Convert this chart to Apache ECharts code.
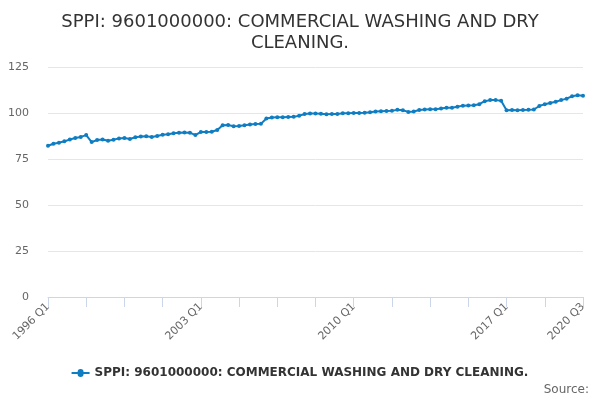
<!DOCTYPE html>
<html>
<head>
<meta charset="utf-8">
<script src="https://cdn.jsdelivr.net/npm/echarts@6/dist/echarts.min.js"></script>
<style>
  html, body { margin: 0; padding: 0; background: #fff; }
  #chart { width: 600px; height: 400px; }
</style>
</head>
<body>
<div id="chart"></div>
<script>
// 数据：1996 Q1 ~ 2020 Q3 季度指数
const seriesName = 'SPPI: 9601000000: COMMERCIAL WASHING AND DRY CLEANING.';
const firstYear = 1996;
const lastYear = 2020;
const lastQuarter = 3;
const yTicks = [0, 25, 50, 75, 100, 125];

const values = [
    82.2, 83.3, 83.8, 84.6, 85.6, 86.4, 87.0, 88.0,
    84.2, 85.3, 85.6, 84.9, 85.5, 86.2, 86.4, 85.9,
    86.8, 87.2, 87.4, 86.9, 87.5, 88.2, 88.5, 89.0,
    89.3, 89.4, 89.3, 88.0, 89.7, 89.7, 89.8, 90.8,
    93.4, 93.5, 92.8, 92.9, 93.3, 93.7, 94.0, 94.1,
    97.0, 97.6, 97.7, 97.7, 97.8, 97.9, 98.5, 99.4,
    99.7, 99.7, 99.6, 99.3, 99.4, 99.5, 99.8, 99.9,
    100.0, 100.0, 100.1, 100.4, 100.8, 101.0, 101.1, 101.2,
    101.7, 101.5, 100.6, 100.8, 101.6, 101.9, 102.0, 102.0,
    102.4, 102.9, 102.8, 103.4, 104.0, 104.1, 104.2, 104.8,
    106.4, 107.0, 107.0, 106.7, 101.5, 101.6, 101.5, 101.6,
    101.7, 101.9, 103.8, 104.8, 105.4, 106.1, 107.0, 107.8,
    109.1, 109.6, 109.4
];

// 季度标签
const quarters = [];
for (let y = firstYear; y <= lastYear; y++) {
    for (let q = 1; q <= 4; q++) {
        if (y === lastYear && q > lastQuarter) break;
        quarters.push(y + ' Q' + q);
    }
}

const chart = echarts.init(document.getElementById('chart'), null, { renderer: 'canvas' });
const lastIdx = quarters.length - 1;

const option = {
    animation: false,
    textStyle: { fontFamily: 'DejaVu Sans' },
    title: {
        text: 'SPPI: 9601000000: COMMERCIAL WASHING AND DRY\nCLEANING.',
        left: 'center',
        top: 7,
        textStyle: { fontSize: 18, fontWeight: 'normal', color: '#333', lineHeight: 21 }
    },
    legend: {
        bottom: 16,
        left: 'center',
        icon: 'path://M0,4 L6,4 A3,3 0 1 1 12,4 L18,4 L18,6 L12,6 A3,3 0 1 1 6,6 L0,6 Z',
        itemWidth: 18,
        itemHeight: 8,
        itemGap: 6,
        textStyle: { fontSize: 12, fontWeight: 'bold', color: '#333' },
        data: [seriesName]
    },
    graphic: [{
        type: 'text',
        right: 11,
        bottom: 4,
        style: { text: 'Source:', fontSize: 12, fill: '#666', fontFamily: 'DejaVu Sans' }
    }],
    grid: { left: 48, right: 17, top: 67, bottom: 103 },
    xAxis: {
        type: 'category',
        data: quarters,
        boundaryGap: false,
        axisLine: { lineStyle: { color: '#ccd6eb' } },
        axisTick: { interval: 6, length: 10, lineStyle: { color: '#ccd6eb' } },
        axisLabel: {
            rotate: 45,
            fontSize: 11,
            color: '#666',
            margin: 8,
            interval: (i) => i % 28 === 0 || i === lastIdx
        }
    },
    yAxis: {
        type: 'value',
        min: yTicks[0],
        max: yTicks[yTicks.length - 1],
        interval: 25,
        axisLine: { show: false },
        axisTick: { show: false },
        axisLabel: { fontSize: 11, color: '#666', margin: 19 },
        splitLine: { lineStyle: { color: '#e6e6e6' } }
    },
    series: [{
        name: seriesName,
        type: 'line',
        data: values,
        color: '#0f7dc2',
        symbol: 'circle',
        symbolSize: 4,
        showAllSymbol: true,
        lineStyle: { width: 2 }
    }]
};
chart.setOption(option);
</script>
</body>
</html>
